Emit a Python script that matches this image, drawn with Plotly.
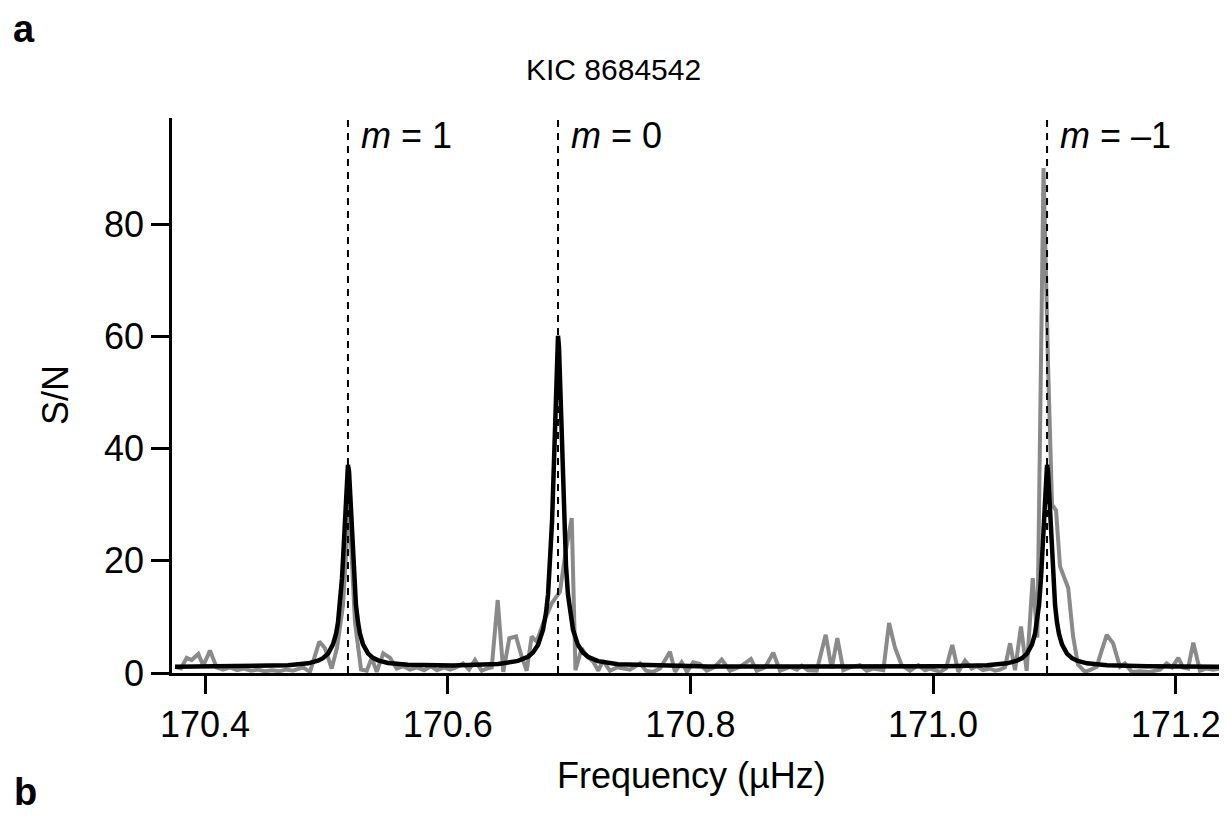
import plotly.graph_objects as go

# ---- data ----
# grey: observed S/N spectrum (vertices of the polyline)
obs_freq = [170.3767, 170.3802, 170.3849, 170.3890, 170.3945, 170.3986, 170.4041, 170.4096,
            170.4148, 170.4206, 170.4264, 170.4321, 170.4379, 170.4437, 170.4494, 170.4552,
            170.4610, 170.4667, 170.4725, 170.4783, 170.4808, 170.4865, 170.4942, 170.4989,
            170.5044, 170.5088, 170.5137, 170.5187, 170.5236, 170.5286, 170.5333, 170.5374,
            170.5415, 170.5469, 170.5525, 170.5580, 170.5632, 170.5689, 170.5747, 170.5805,
            170.5862, 170.5912, 170.5970, 170.6019, 170.6068, 170.6126, 170.6176, 170.6225,
            170.6280, 170.6324, 170.6363, 170.6412, 170.6458, 170.6508, 170.6563, 170.6610,
            170.6651, 170.6692, 170.6733, 170.6788, 170.6857, 170.6925, 170.6975, 170.7022,
            170.7053, 170.7104, 170.7145, 170.7200, 170.7241, 170.7280, 170.7337, 170.7395,
            170.7445, 170.7502, 170.7585, 170.7634, 170.7692, 170.7750, 170.7832, 170.7873,
            170.7928, 170.7972, 170.8024, 170.8079, 170.8134, 170.8195, 170.8258, 170.8326,
            170.8409, 170.8499, 170.8546, 170.8615, 170.8683, 170.8738, 170.8821, 170.8878,
            170.8917, 170.8969, 170.9041, 170.9115, 170.9164, 170.9211, 170.9260, 170.9315,
            170.9398, 170.9453, 170.9505, 170.9590, 170.9637, 170.9686, 170.9741, 170.9810,
            170.9878, 170.9933, 170.9974, 171.0057, 171.0106, 171.0158, 171.0208, 171.0263,
            171.0318, 171.0362, 171.0411, 171.0469, 171.0510, 171.0551, 171.0592, 171.0634,
            171.0675, 171.0724, 171.0771, 171.0821, 171.0859, 171.0910, 171.0947, 171.0980,
            171.1013, 171.1046, 171.1114, 171.1153, 171.1194, 171.1252, 171.1301, 171.1348,
            171.1389, 171.1431, 171.1483, 171.1540, 171.1581, 171.1637, 171.1705, 171.1787,
            171.1870, 171.1925, 171.1969, 171.2021, 171.2059, 171.2101, 171.2144, 171.2199,
            171.2249, 171.2307, 171.2364]
obs_snr = [1.0, 0.8, 2.7, 2.3, 3.4, 1.3, 4.0, 1.0,
           0.6, 1.0, 0.5, 0.8, 0.4, 0.6, 0.3, 0.5,
           0.3, 0.6, 0.4, 0.8, 1.0, 0.2, 5.6, 4.4,
           0.8, 4.5, 12.0, 30.0, 9.0, 0.6, 0.4, 2.7,
           0.2, 3.5, 2.7, 0.8, 1.2, 0.6, 1.0, 0.5,
           1.2, 0.5, 1.0, 0.6, 1.0, 1.7, 0.6, 2.3,
           0.4, 0.8, 1.0, 13.0, 0.2, 6.2, 6.5, 2.9,
           0.4, 6.5, 5.6, 8.9, 12.4, 14.5, 22.0, 27.6,
           0.5, 4.4, 3.0, 2.0, 0.4, 2.2, 0.4, 1.0,
           0.8, 0.6, 1.7, 0.4, 0.2, 0.8, 3.8, 0.2,
           1.9, 0.2, 1.9, 1.6, 0.4, 1.0, 2.4, 0.4,
           1.1, 2.5, 0.4, 1.0, 3.6, 0.4, 1.1, 0.6,
           1.3, 0.5, 0.4, 6.8, 0.8, 6.2, 0.5, 1.0,
           1.4, 0.4, 0.8, 0.5, 8.9, 4.5, 1.4, 0.4,
           1.4, 0.5, 0.8, 0.2, 0.8, 5.0, 0.2, 2.2,
           0.8, 1.2, 0.5, 0.8, 0.4, 0.6, 1.0, 5.3,
           0.5, 8.3, 0.4, 16.9, 6.3, 90.0, 55.0, 30.0,
           29.0, 19.0, 15.1, 6.6, 1.5, 0.2, 0.6, 1.1,
           4.0, 6.8, 5.3, 1.1, 1.7, 0.2, 0.3, 0.2,
           0.6, 1.7, 1.0, 2.7, 1.0, 0.8, 5.4, 0.4,
           0.8, 0.6, 0.8]

# black: fitted profile
fit_freq = [170.3753, 170.4354, 170.4684, 170.4849, 170.4931, 170.4972, 170.5014, 170.5055,
            170.5080, 170.5096, 170.5112, 170.5129, 170.5137, 170.5145, 170.5154, 170.5162,
            170.5170, 170.5178, 170.5187, 170.5195, 170.5203, 170.5211, 170.5220, 170.5228,
            170.5244, 170.5261, 170.5277, 170.5302, 170.5343, 170.5384, 170.5426, 170.5508,
            170.5673, 170.6044, 170.6415, 170.6579, 170.6662, 170.6703, 170.6744, 170.6785,
            170.6810, 170.6827, 170.6843, 170.6860, 170.6868, 170.6876, 170.6884, 170.6892,
            170.6901, 170.6909, 170.6917, 170.6925, 170.6934, 170.6942, 170.6950, 170.6958,
            170.6975, 170.6991, 170.7008, 170.7033, 170.7074, 170.7115, 170.7156, 170.7239,
            170.7403, 170.7733, 170.8145, 170.8903, 170.9703, 171.0115, 171.0444, 171.0609,
            171.0691, 171.0733, 171.0774, 171.0815, 171.0840, 171.0856, 171.0873, 171.0889,
            171.0897, 171.0906, 171.0914, 171.0922, 171.0930, 171.0939, 171.0947, 171.0955,
            171.0963, 171.0972, 171.0980, 171.0988, 171.1005, 171.1021, 171.1037, 171.1062,
            171.1103, 171.1145, 171.1186, 171.1268, 171.1433, 171.1763, 171.2381]
fit_snr = [1.13, 1.20, 1.38, 1.72, 2.19, 2.65, 3.46, 5.1,
           7.0, 9.0, 12.1, 16.9, 20.1, 24.0, 28.4, 32.6,
           35.9, 37.1, 35.9, 32.6, 28.4, 24.0, 20.1, 16.9,
           12.1, 9.0, 7.0, 5.1, 3.5, 2.7, 2.25, 1.78,
           1.47, 1.34, 1.6, 2.15, 2.9, 3.64, 4.97, 7.65,
           10.7, 14.0, 19.1, 27.0, 32.3, 38.7, 45.8, 52.7,
           58.1, 60.1, 58.1, 52.7, 45.8, 38.7, 32.3, 27.0,
           19.1, 14.0, 10.7, 7.65, 4.97, 3.64, 2.89, 2.12,
           1.56, 1.36, 1.18, 1.15, 1.16, 1.21, 1.38, 1.72,
           2.19, 2.65, 3.46, 5.1, 7.0, 9.0, 12.1, 16.9,
           20.1, 24.0, 28.4, 32.6, 35.9, 37.1, 35.9, 32.6,
           28.4, 24.0, 20.1, 16.9, 12.1, 9.0, 7.0, 5.1,
           3.46, 2.65, 2.19, 1.72, 1.38, 1.2, 1.13]

# mode centres and their labels
mode_freq = [170.5178, 170.6909, 171.0939]
mode_labels = ["<i>m</i> = 1", "<i>m</i> = 0", "<i>m</i> = \u20131"]

x_ticks = [170.4, 170.6, 170.8, 171.0, 171.2]
x_tick_text = ["170.4", "170.6", "170.8", "171.0", "171.2"]
y_ticks = [0, 20, 40, 60, 80]

FONT = "Liberation Sans, Arial, Helvetica, sans-serif"

fig = go.Figure()
fig.add_trace(go.Scatter(x=obs_freq, y=obs_snr, mode="lines",
                         line=dict(color="#8a8a8a", width=4), hoverinfo="skip"))
fig.add_trace(go.Scatter(x=fit_freq, y=fit_snr, mode="lines",
                         line=dict(color="#000000", width=4.5), hoverinfo="skip"))

for f in mode_freq:
    fig.add_shape(type="line", xref="x", yref="paper", x0=f, x1=f, y0=0, y1=1,
                  line=dict(color="black", width=2, dash="7px,6px"), layer="above")

for f, lab in zip(mode_freq, mode_labels):
    fig.add_annotation(x=f, y=0.969, xref="x", yref="paper", text=lab, showarrow=False,
                       xanchor="left", yanchor="middle", xshift=11,
                       font=dict(family=FONT, size=36, color="black"))

fig.add_annotation(x=0.4205, y=1.0865, xref="paper", yref="paper", text="KIC 8684542",
                   showarrow=False, xanchor="center", yanchor="middle",
                   font=dict(family=FONT, size=30, color="black"))
fig.add_annotation(x=-0.141, y=1.160, xref="paper", yref="paper", text="<b>a</b>",
                   showarrow=False, xanchor="center", yanchor="middle",
                   font=dict(family=FONT, size=38, color="black"))
fig.add_annotation(x=-0.140, y=-0.214, xref="paper", yref="paper", text="<b>b</b>",
                   showarrow=False, xanchor="center", yanchor="middle",
                   font=dict(family=FONT, size=38, color="black"))
fig.add_annotation(x=-0.1114, y=0.5009, xref="paper", yref="paper", text="S/N",
                   showarrow=False, textangle=-90, xanchor="center", yanchor="middle",
                   font=dict(family=FONT, size=36, color="black"))
fig.add_annotation(x=0.4952, y=-0.1838, xref="paper", yref="paper", text="Frequency (\u00b5Hz)",
                   showarrow=False, xanchor="center", yanchor="middle",
                   font=dict(family=FONT, size=36, color="black"))

# page body has an 8px offset, so the plot box is placed 8px up/left
fig.update_layout(
    width=1227, height=831,
    margin=dict(l=164, r=13, t=110, b=166),
    paper_bgcolor="white", plot_bgcolor="white",
    showlegend=False,
    font=dict(family=FONT, size=36, color="black"),
    xaxis=dict(range=[170.37281, 171.23807], tickvals=x_ticks, ticktext=x_tick_text,
               showline=True, linecolor="black", linewidth=2.5,
               ticks="outside", ticklen=18, tickwidth=2.5, tickcolor="black",
               showgrid=False, zeroline=False,
               tickfont=dict(family=FONT, size=36, color="black")),
    yaxis=dict(range=[0, 98.9], tickvals=y_ticks,
               showline=True, linecolor="black", linewidth=2.5,
               ticks="outside", ticklen=18, tickwidth=2.5, tickcolor="black",
               showgrid=False, zeroline=False,
               tickfont=dict(family=FONT, size=36, color="black")),
)

fig.write_html("out.html")
